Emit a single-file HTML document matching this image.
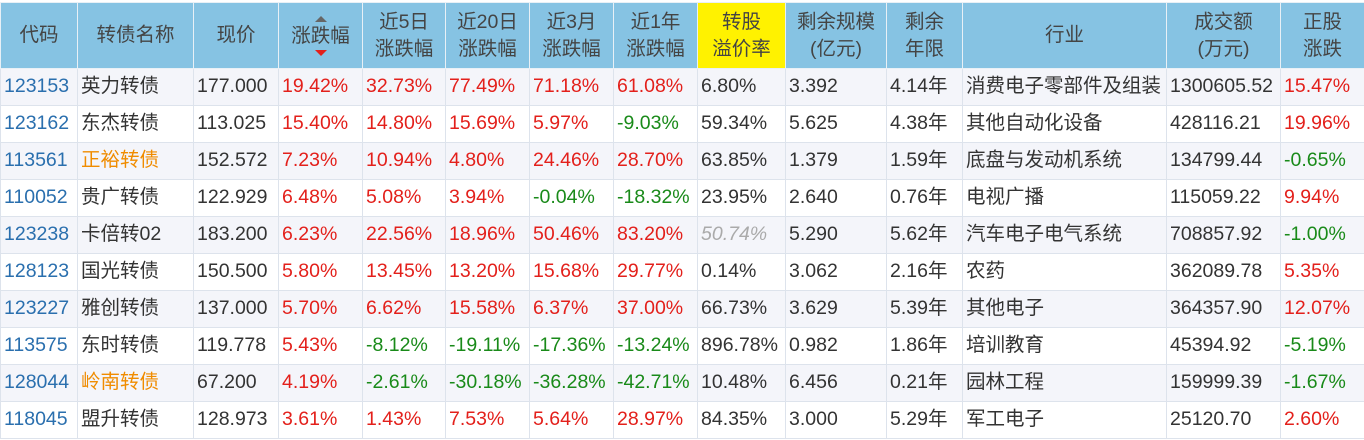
<!DOCTYPE html>
<html><head><meta charset="utf-8"><style>
body{margin:0;background:#fff;width:1364px;height:440px;overflow:hidden;font-family:"Liberation Sans","Noto Sans CJK SC",sans-serif;}
table{border-collapse:collapse;position:absolute;left:0;top:2px;table-layout:fixed;width:1364px;}
td,th{border:1px solid #dde3ec;font-size:19.5px;padding:0 0 0 3px;white-space:nowrap;overflow:hidden;text-align:left;color:#333;}
td{line-height:20px;padding-bottom:2px;}
th{background:#86c3e3;font-weight:normal;height:65px;text-align:center;padding:0;line-height:27px;color:#444;border-color:#e8f0f6;}
th.y{background:#fff200;}
tr{height:37px;}
tbody tr:nth-child(odd) td{background:#f4f5fa;}
.c{color:#2a6fae}.r{color:#e3201b}.g{color:#198a19}.o{color:#f08c00}.i{color:#aaa;font-style:italic}
.tri{display:block;width:0;height:0;margin:3px auto;border-left:6px solid transparent;border-right:6px solid transparent;}
.s{line-height:22px}
</style></head><body>
<table>
<colgroup><col style="width:77px"><col style="width:116px"><col style="width:85px"><col style="width:84px"><col style="width:83px"><col style="width:84px"><col style="width:84px"><col style="width:84px"><col style="width:88px"><col style="width:101px"><col style="width:76px"><col style="width:204px"><col style="width:114px"><col style="width:84px"></colgroup>
<thead><tr>
<th>代码</th><th>转债名称</th><th>现价</th><th class="s"><span class="tri" style="border-bottom:6px solid #666"></span>涨跌幅<span class="tri" style="border-top:6px solid #e3201b"></span></th><th>近5日<br>涨跌幅</th><th>近20日<br>涨跌幅</th><th>近3月<br>涨跌幅</th><th>近1年<br>涨跌幅</th><th class="y">转股<br>溢价率</th><th>剩余规模<br>(亿元)</th><th>剩余<br>年限</th><th>行业</th><th>成交额<br>(万元)</th><th>正股<br>涨跌</th>
</tr></thead>
<tbody>
<tr><td class="c">123153</td><td>英力转债</td><td>177.000</td><td class="r">19.42%</td><td class="r">32.73%</td><td class="r">77.49%</td><td class="r">71.18%</td><td class="r">61.08%</td><td>6.80%</td><td>3.392</td><td>4.14年</td><td>消费电子零部件及组装</td><td>1300605.52</td><td class="r">15.47%</td></tr>
<tr><td class="c">123162</td><td>东杰转债</td><td>113.025</td><td class="r">15.40%</td><td class="r">14.80%</td><td class="r">15.69%</td><td class="r">5.97%</td><td class="g">-9.03%</td><td>59.34%</td><td>5.625</td><td>4.38年</td><td>其他自动化设备</td><td>428116.21</td><td class="r">19.96%</td></tr>
<tr><td class="c">113561</td><td class="o">正裕转债</td><td>152.572</td><td class="r">7.23%</td><td class="r">10.94%</td><td class="r">4.80%</td><td class="r">24.46%</td><td class="r">28.70%</td><td>63.85%</td><td>1.379</td><td>1.59年</td><td>底盘与发动机系统</td><td>134799.44</td><td class="g">-0.65%</td></tr>
<tr><td class="c">110052</td><td>贵广转债</td><td>122.929</td><td class="r">6.48%</td><td class="r">5.08%</td><td class="r">3.94%</td><td class="g">-0.04%</td><td class="g">-18.32%</td><td>23.95%</td><td>2.640</td><td>0.76年</td><td>电视广播</td><td>115059.22</td><td class="r">9.94%</td></tr>
<tr><td class="c">123238</td><td>卡倍转02</td><td>183.200</td><td class="r">6.23%</td><td class="r">22.56%</td><td class="r">18.96%</td><td class="r">50.46%</td><td class="r">83.20%</td><td class="i">50.74%</td><td>5.290</td><td>5.62年</td><td>汽车电子电气系统</td><td>708857.92</td><td class="g">-1.00%</td></tr>
<tr><td class="c">128123</td><td>国光转债</td><td>150.500</td><td class="r">5.80%</td><td class="r">13.45%</td><td class="r">13.20%</td><td class="r">15.68%</td><td class="r">29.77%</td><td>0.14%</td><td>3.062</td><td>2.16年</td><td>农药</td><td>362089.78</td><td class="r">5.35%</td></tr>
<tr><td class="c">123227</td><td>雅创转债</td><td>137.000</td><td class="r">5.70%</td><td class="r">6.62%</td><td class="r">15.58%</td><td class="r">6.37%</td><td class="r">37.00%</td><td>66.73%</td><td>3.629</td><td>5.39年</td><td>其他电子</td><td>364357.90</td><td class="r">12.07%</td></tr>
<tr><td class="c">113575</td><td>东时转债</td><td>119.778</td><td class="r">5.43%</td><td class="g">-8.12%</td><td class="g">-19.11%</td><td class="g">-17.36%</td><td class="g">-13.24%</td><td>896.78%</td><td>0.982</td><td>1.86年</td><td>培训教育</td><td>45394.92</td><td class="g">-5.19%</td></tr>
<tr><td class="c">128044</td><td class="o">岭南转债</td><td>67.200</td><td class="r">4.19%</td><td class="g">-2.61%</td><td class="g">-30.18%</td><td class="g">-36.28%</td><td class="g">-42.71%</td><td>10.48%</td><td>6.456</td><td>0.21年</td><td>园林工程</td><td>159999.39</td><td class="g">-1.67%</td></tr>
<tr><td class="c">118045</td><td>盟升转债</td><td>128.973</td><td class="r">3.61%</td><td class="r">1.43%</td><td class="r">7.53%</td><td class="r">5.64%</td><td class="r">28.97%</td><td>84.35%</td><td>3.000</td><td>5.29年</td><td>军工电子</td><td>25120.70</td><td class="r">2.60%</td></tr>
</tbody></table>
</body></html>
